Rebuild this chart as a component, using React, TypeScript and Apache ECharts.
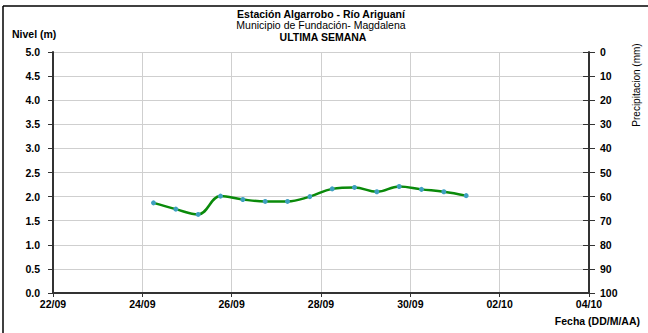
import React, { useEffect, useRef } from "react";
import * as echarts from "echarts";

const titleLines = ["Estación Algarrobo - Río Ariguaní", "Municipio de Fundación- Magdalena", "ULTIMA SEMANA"];
const xTickLabels = ["22/09", "24/09", "26/09", "28/09", "30/09", "02/10", "04/10"];
const startDate = "22/09";
const times = [
  "24/09 06:00", "24/09 18:00", "25/09 06:00", "25/09 18:00", "26/09 06:00",
  "26/09 18:00", "27/09 06:00", "27/09 18:00", "28/09 06:00", "28/09 18:00",
  "29/09 06:00", "29/09 18:00", "30/09 06:00", "30/09 18:00", "01/10 06:00",
];
const nivel = [1.87, 1.74, 1.63, 2.01, 1.94, 1.9, 1.9, 2.0, 2.16, 2.19, 2.1, 2.21, 2.15, 2.1, 2.02];

const toMs = (s: string) => {
  const [dm, hm] = s.split(" ");
  const [d, m] = dm.split("/").map(Number);
  const h = hm ? Number(hm.split(":")[0]) : 0;
  return Date.UTC(2023, m - 1, d, h);
};
const dayOffset = (s: string) => (toMs(s) - toMs(startDate)) / 86400000;

const FONT = "'Liberation Sans', Arial, sans-serif";

export default function App() {
  const ref = useRef<HTMLDivElement>(null);
  useEffect(() => {
    const chart = echarts.init(ref.current!, null, { renderer: "svg" });
    const data = times.map((t, i) => [dayOffset(t), nivel[i]]);
    chart.setOption({
      animation: false,
      backgroundColor: "#ffffff",
      textStyle: { fontFamily: FONT },
      grid: { left: 53, right: 59, top: 52, bottom: 40, containLabel: false },
      graphic: [
        { type: "line", shape: { x1: 3, y1: 6, x2: 648, y2: 6 }, style: { stroke: "#000", lineWidth: 1.5 } },
        { type: "line", shape: { x1: 3, y1: 6, x2: 3, y2: 333 }, style: { stroke: "#000", lineWidth: 1.5 } },
        { type: "text", x: 321, y: 14, style: { text: titleLines[0], font: `bold 10.5px ${FONT}`, fill: "#000", textAlign: "center", textVerticalAlign: "middle" } },
        { type: "text", x: 321, y: 25, style: { text: titleLines[1], font: `10.5px ${FONT}`, fill: "#000", textAlign: "center", textVerticalAlign: "middle" } },
        { type: "text", x: 323, y: 37, style: { text: titleLines[2], font: `bold 10.5px ${FONT}`, fill: "#000", textAlign: "center", textVerticalAlign: "middle" } },
        { type: "text", x: 12, y: 34, style: { text: "Nivel (m)", font: `bold 10.5px ${FONT}`, fill: "#000", textAlign: "left", textVerticalAlign: "middle" } },
        { type: "text", x: 636, y: 85, rotation: Math.PI / 2, style: { text: "Precipitacion (mm)", font: `10px ${FONT}`, fill: "#000", textAlign: "center", textVerticalAlign: "middle" } },
        { type: "text", x: 640, y: 321, style: { text: "Fecha (DD/M/AA)", font: `bold 10.5px ${FONT}`, fill: "#000", textAlign: "right", textVerticalAlign: "middle" } },
      ],
      xAxis: {
        type: "value",
        min: 0,
        max: 12,
        interval: 2,
        axisLine: { show: true, lineStyle: { color: "#333", width: 2 } },
        axisTick: { show: true, length: 4, lineStyle: { color: "#333" } },
        axisLabel: {
          color: "#000",
          fontWeight: "bold",
          fontSize: 10.5,
          margin: 5,
          formatter: (v: number) => xTickLabels[Math.round(v / 2)] ?? "",
        },
        splitLine: { show: true, lineStyle: { color: "#cfcfcf", width: 1 } },
      },
      yAxis: [
        {
          type: "value",
          min: 0,
          max: 5,
          interval: 0.5,
          position: "left",
          axisLine: { show: true, lineStyle: { color: "#333", width: 2 } },
          axisTick: { show: true, length: 5, lineStyle: { color: "#333" } },
          axisLabel: { color: "#000", fontWeight: "bold", fontSize: 10.5, margin: 13, formatter: (v: number) => v.toFixed(1) },
          splitLine: { show: true, lineStyle: { color: "#cfcfcf", width: 1 } },
        },
        {
          type: "value",
          min: 0,
          max: 100,
          interval: 10,
          inverse: true,
          position: "right",
          axisLine: { show: true, lineStyle: { color: "#333", width: 2 } },
          axisTick: { show: true, length: 6, lineStyle: { color: "#333" } },
          axisLabel: { color: "#000", fontWeight: "bold", fontSize: 10.5, margin: 11 },
          splitLine: { show: false },
        },
        {
          type: "value",
          min: 0,
          max: 100,
          interval: 10,
          inverse: true,
          position: "right",
          axisLine: { show: false },
          axisTick: { show: true, inside: true, length: 6, lineStyle: { color: "#333" } },
          axisLabel: { show: false },
          splitLine: { show: false },
        },
      ],
      series: [
        {
          type: "line",
          yAxisIndex: 0,
          data,
          smooth: 0.4,
          symbol: "circle",
          symbolSize: 5,
          lineStyle: { color: "#0a8a0a", width: 2.5 },
          itemStyle: { color: "#3fa0c0", borderWidth: 0 },
          z: 3,
        },
      ],
    });
    return () => chart.dispose();
  }, []);
  return <div ref={ref} style={{ width: 648, height: 333, position: "absolute", left: 0, top: 0 }} />;
}
